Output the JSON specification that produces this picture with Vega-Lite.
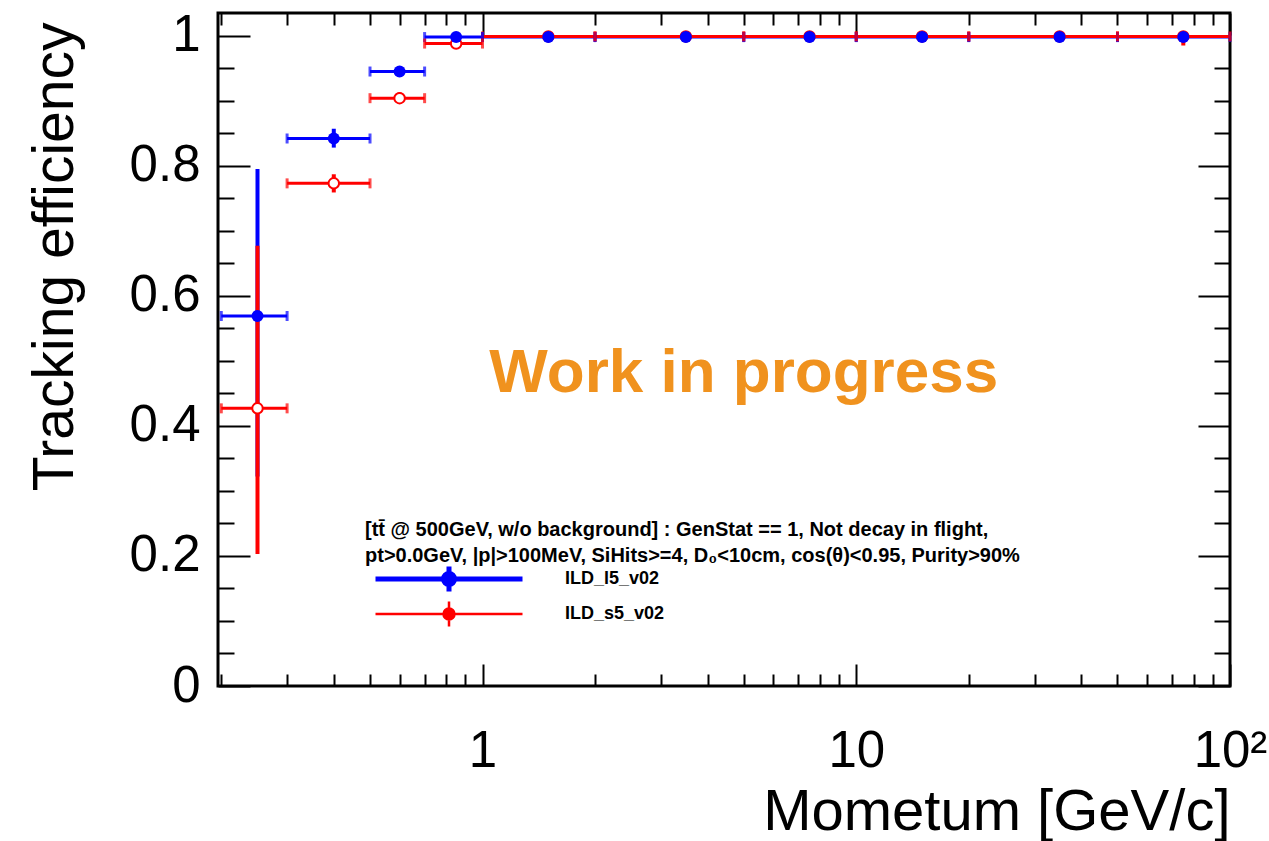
{
  "$schema": "https://vega.github.io/schema/vega-lite/v6.json",
  "width": 1012,
  "height": 673,
  "autosize": {"type": "none"},
  "padding": {"left": 218, "top": 13, "right": 39, "bottom": 155},
  "background": "white",
  "config": {
    "view": {"stroke": "black", "strokeWidth": 3},
    "font": "Liberation Sans",
    "axis": {"grid": false, "domain": false, "tickColor": "black", "tickWidth": 2, "labelColor": "black", "titleColor": "black", "labelFont": "Liberation Sans", "titleFont": "Liberation Sans"}
  },
  "datasets": {
    "eff": [
      {"series": "ILD_l5_v02", "p": 0.25, "plo": 0.2, "phi": 0.3, "eff": 0.569, "elo": 0.322, "ehi": 0.795},
      {"series": "ILD_l5_v02", "p": 0.4, "plo": 0.3, "phi": 0.5, "eff": 0.842, "elo": 0.828, "ehi": 0.857},
      {"series": "ILD_l5_v02", "p": 0.6, "plo": 0.5, "phi": 0.7, "eff": 0.945, "elo": 0.937, "ehi": 0.952},
      {"series": "ILD_l5_v02", "p": 0.85, "plo": 0.7, "phi": 1.0, "eff": 0.998, "elo": 0.993, "ehi": 1.0},
      {"series": "ILD_l5_v02", "p": 1.5, "plo": 1, "phi": 2, "eff": 0.998, "elo": 0.995, "ehi": 1.0},
      {"series": "ILD_l5_v02", "p": 3.5, "plo": 2, "phi": 5, "eff": 0.998, "elo": 0.996, "ehi": 1.0},
      {"series": "ILD_l5_v02", "p": 7.5, "plo": 5, "phi": 10, "eff": 0.998, "elo": 0.996, "ehi": 1.0},
      {"series": "ILD_l5_v02", "p": 15, "plo": 10, "phi": 20, "eff": 0.998, "elo": 0.996, "ehi": 1.0},
      {"series": "ILD_l5_v02", "p": 35, "plo": 20, "phi": 50, "eff": 0.998, "elo": 0.995, "ehi": 1.0},
      {"series": "ILD_l5_v02", "p": 75, "plo": 50, "phi": 100, "eff": 0.998, "elo": 0.993, "ehi": 1.0},
      {"series": "ILD_s5_v02", "p": 0.25, "plo": 0.2, "phi": 0.3, "eff": 0.427, "elo": 0.203, "ehi": 0.677},
      {"series": "ILD_s5_v02", "p": 0.4, "plo": 0.3, "phi": 0.5, "eff": 0.773, "elo": 0.759, "ehi": 0.787},
      {"series": "ILD_s5_v02", "p": 0.6, "plo": 0.5, "phi": 0.7, "eff": 0.904, "elo": 0.895, "ehi": 0.913},
      {"series": "ILD_s5_v02", "p": 0.85, "plo": 0.7, "phi": 1.0, "eff": 0.988, "elo": 0.98, "ehi": 0.995},
      {"series": "ILD_s5_v02", "p": 1.5, "plo": 1, "phi": 2, "eff": 0.999, "elo": 0.997, "ehi": 1.0},
      {"series": "ILD_s5_v02", "p": 3.5, "plo": 2, "phi": 5, "eff": 0.999, "elo": 0.998, "ehi": 1.0},
      {"series": "ILD_s5_v02", "p": 7.5, "plo": 5, "phi": 10, "eff": 0.999, "elo": 0.998, "ehi": 1.0},
      {"series": "ILD_s5_v02", "p": 15, "plo": 10, "phi": 20, "eff": 0.999, "elo": 0.998, "ehi": 1.0},
      {"series": "ILD_s5_v02", "p": 35, "plo": 20, "phi": 50, "eff": 0.999, "elo": 0.998, "ehi": 1.0},
      {"series": "ILD_s5_v02", "p": 75, "plo": 50, "phi": 100, "eff": 0.999, "elo": 0.985, "ehi": 1.0}
    ]
  },
  "data": {"name": "eff"},
  "layer": [
    {
      "mark": {"type": "rule", "strokeWidth": 3},
      "encoding": {
        "x": {"field": "plo", "type": "quantitative",
          "scale": {"type": "log", "domain": [0.196, 100], "nice": false},
          "axis": {"orient": "bottom",
            "values": [0.2,0.3,0.4,0.5,0.6,0.7,0.8,0.9,1,2,3,4,5,6,7,8,9,10,20,30,40,50,60,70,80,90,100],
            "labelExpr": "datum.value == 1 ? '1' : datum.value == 10 ? '10' : datum.value == 100 ? '10²' : ''",
            "tickSize": {"condition": {"test": "abs(log(datum.value)/LN10 - round(log(datum.value)/LN10)) < 0.001", "value": -22}, "value": -12},
            "labelPadding": 62, "labelFontSize": 51, "labelOverlap": false, "labelBound": false, "labelFlush": false,
            "title": "Mometum [GeV/c]", "titleFontSize": 58, "titleFontWeight": "normal", "titleAnchor": "end", "titleAlign": "right", "titleBaseline": "alphabetic", "titleY": 143}},
        "x2": {"field": "phi"},
        "y": {"field": "eff", "type": "quantitative",
          "scale": {"domain": [0, 1.035], "nice": false, "zero": false},
          "axis": {"orient": "left",
            "values": [0,0.05,0.1,0.15,0.2,0.25,0.3,0.35,0.4,0.45,0.5,0.55,0.6,0.65,0.7,0.75,0.8,0.85,0.9,0.95,1],
            "labelExpr": "abs(round(datum.value*5) - datum.value*5) < 0.001 ? format(datum.value, '~g') : ''",
            "tickSize": {"condition": {"test": "abs(round(datum.value*5) - datum.value*5) < 0.001", "value": -32}, "value": -16},
            "labelPadding": 50, "labelFontSize": 51, "labelOverlap": false, "labelBound": false, "labelFlush": false,
            "title": "Tracking efficiency", "titleFontSize": 57, "titleFontWeight": "normal", "titleAngle": -90, "titleAlign": "right", "titleBaseline": "alphabetic", "titleX": -146, "titleY": 9}},
        "color": {"field": "series", "type": "nominal",
          "scale": {"domain": ["ILD_l5_v02", "ILD_s5_v02"], "range": ["#0000ff", "#ff0000"]},
          "legend": {"orient": "none", "legendX": 147, "legendY": 507, "padding": 0,
            "title": ["[tt̄ @ 500GeV, w/o background] : GenStat == 1, Not decay in flight,", " pt>0.0GeV, |p|>100MeV, SiHits>=4, D₀<10cm, cos(θ)<0.95, Purity>90%"],
            "titleFontSize": 20, "titleFontWeight": "bold", "titleColor": "black", "titleLimit": 2000, "titleLineHeight": 26, "titlePadding": 4,
            "symbolType": "M-7.35,0H7.35M0,-1.25V1.25M0.55,0A0.55,0.55,0,1,1,-0.55,0A0.55,0.55,0,1,1,0.55,0Z",
            "symbolSize": 400, "symbolStrokeWidth": 3.5, "symbolOpacity": 1, "symbolOffset": 75,
            "labelFontSize": 18, "labelFontWeight": "bold", "labelColor": "black", "labelLimit": 500, "labelOffset": 107,
            "rowPadding": -6,
            "encode": {"symbols": {"update": {
              "fill": {"signal": "datum.value === 'ILD_l5_v02' ? '#0000ff' : '#ffffff'"},
              "strokeWidth": {"signal": "datum.value === 'ILD_l5_v02' ? 5 : 2.5"},
              "opacity": {"value": 1}}}}}}
      }
    },
    {
      "mark": {"type": "rule", "strokeWidth": 4},
      "encoding": {
        "x": {"field": "p", "type": "quantitative",
          "axis": {"orient": "top",
            "values": [0.2,0.3,0.4,0.5,0.6,0.7,0.8,0.9,1,2,3,4,5,6,7,8,9,10,20,30,40,50,60,70,80,90,100],
            "labels": false, "title": null,
            "tickSize": {"condition": {"test": "abs(log(datum.value)/LN10 - round(log(datum.value)/LN10)) < 0.001", "value": -22}, "value": -12}}},
        "y": {"field": "elo", "type": "quantitative",
          "axis": {"orient": "right",
            "values": [0,0.05,0.1,0.15,0.2,0.25,0.3,0.35,0.4,0.45,0.5,0.55,0.6,0.65,0.7,0.75,0.8,0.85,0.9,0.95,1],
            "labels": false, "title": null,
            "tickSize": {"condition": {"test": "abs(round(datum.value*5) - datum.value*5) < 0.001", "value": -32}, "value": -16}}},
        "y2": {"field": "ehi"},
        "color": {"field": "series", "type": "nominal"}
      }
    },
    {
      "mark": {"type": "tick", "orient": "vertical", "size": 10, "thickness": 3},
      "encoding": {
        "x": {"field": "plo", "type": "quantitative", "axis": null},
        "y": {"field": "eff", "type": "quantitative", "axis": null},
        "color": {"field": "series", "type": "nominal"}
      }
    },
    {
      "mark": {"type": "tick", "orient": "vertical", "size": 10, "thickness": 3},
      "encoding": {
        "x": {"field": "phi", "type": "quantitative", "axis": null},
        "y": {"field": "eff", "type": "quantitative", "axis": null},
        "color": {"field": "series", "type": "nominal"}
      }
    },
    {
      "transform": [{"filter": "datum.series == 'ILD_s5_v02'"}],
      "mark": {"type": "point", "shape": "circle", "size": 110, "strokeWidth": 2, "opacity": 1, "filled": false, "fill": "#ffffff", "stroke": "#ff0000"},
      "encoding": {
        "x": {"field": "p", "type": "quantitative", "axis": null},
        "y": {"field": "eff", "type": "quantitative", "axis": null}
      }
    },
    {
      "transform": [{"filter": "datum.series == 'ILD_l5_v02'"}],
      "mark": {"type": "point", "shape": "circle", "size": 144, "strokeWidth": 1.5, "opacity": 1, "filled": true, "color": "#0000ff"},
      "encoding": {
        "x": {"field": "p", "type": "quantitative", "axis": null},
        "y": {"field": "eff", "type": "quantitative", "axis": null}
      }
    },
    {
      "data": {"values": [{"note": "Work in progress"}]},
      "mark": {"type": "text", "font": "Liberation Sans", "fontWeight": "bold", "fontSize": 62, "color": "#F0921E", "align": "center", "baseline": "alphabetic"},
      "encoding": {
        "x": {"datum": 5.0, "type": "quantitative", "axis": null},
        "y": {"datum": 0.452, "type": "quantitative", "axis": null},
        "text": {"field": "note"}
      }
    }
  ],
  "resolve": {"axis": {"x": "independent", "y": "independent"}}
}
